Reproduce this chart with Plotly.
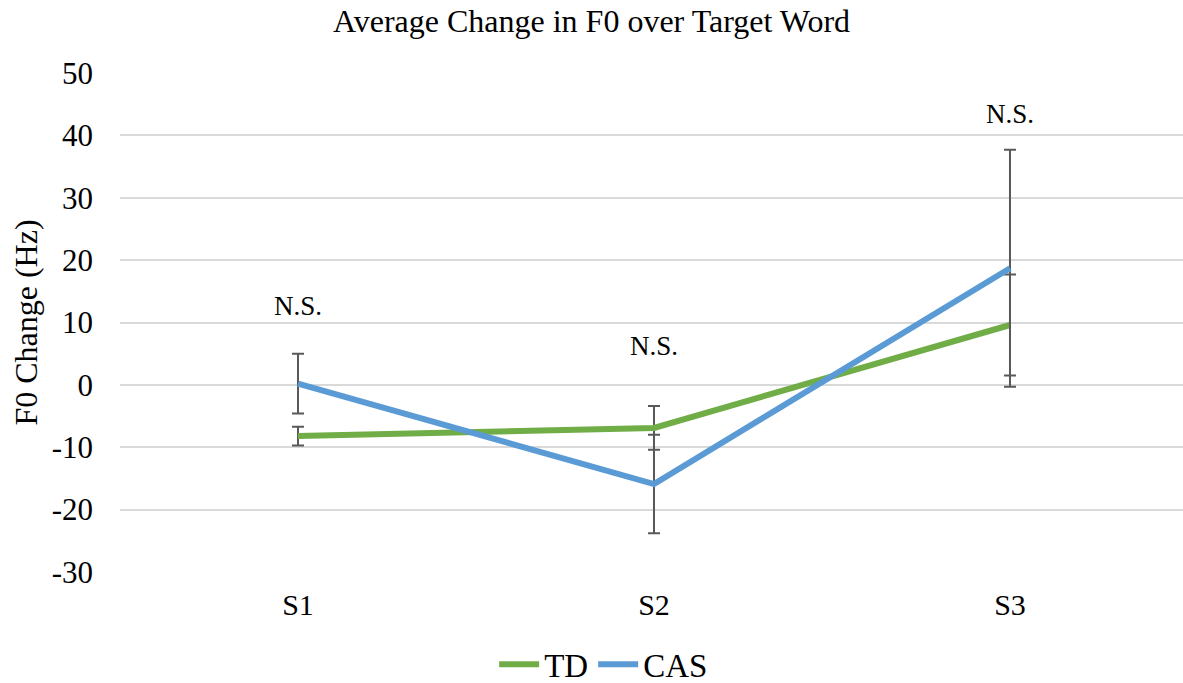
import plotly.graph_objects as go

categories = ["S1", "S2", "S3"]
td_values = [-8.2, -6.9, 9.6]
td_errors = [1.5, 3.5, 8.1]
cas_values = [0.2, -15.9, 18.7]
cas_errors = [4.8, 7.9, 19.0]
ns_labels = ["N.S.", "N.S.", "N.S."]
ns_y = [12.7, 6.3, 43.4]
y_tickvals = [-30, -20, -10, 0, 10, 20, 30, 40, 50]
y_ticktext = ["-30", "-20", "-10", "0", "10", "20", "30", "40", "50"]

FONT = "Liberation Serif"
ERR = "#595959"

fig = go.Figure()
fig.add_trace(go.Scatter(
    x=categories, y=td_values, mode="lines", name="TD",
    line=dict(color="#70AD47", width=6),
    error_y=dict(type="data", array=td_errors, color=ERR, thickness=2, width=6),
))
fig.add_trace(go.Scatter(
    x=categories, y=cas_values, mode="lines", name="CAS",
    line=dict(color="#5B9BD5", width=6),
    error_y=dict(type="data", array=cas_errors, color=ERR, thickness=2, width=6),
))

for c, t, yy in zip(categories, ns_labels, ns_y):
    fig.add_annotation(x=c, y=yy, text=t, showarrow=False,
                       font=dict(family=FONT, size=27, color="black"))

fig.update_layout(
    width=1183, height=683,
    paper_bgcolor="white", plot_bgcolor="white",
    margin=dict(l=120, r=0, t=73, b=111, autoexpand=False),
    title=dict(text="Average Change in F0 over Target Word", x=0.5, xanchor="center",
               y=0.97, yanchor="middle",
               font=dict(family=FONT, size=32, color="black")),
    font=dict(family=FONT, color="black"),
    xaxis=dict(range=[-0.5, 2.486], showgrid=False, showline=False, ticks="",
               tickfont=dict(family=FONT, size=30, color="black"), zeroline=False,
               ticklabelstandoff=12),
    yaxis=dict(range=[-30, 50], tickvals=y_tickvals, ticktext=y_ticktext,
               showgrid=True, gridcolor="#D9D9D9", gridwidth=2,
               zeroline=False, showline=False, ticks="",
               tickfont=dict(family=FONT, size=31, color="black"),
               ticklabelstandoff=26,
               title=dict(text="F0 Change (Hz)", font=dict(family=FONT, size=32, color="black"),
                          standoff=4)),
    legend=dict(orientation="h", x=0.455, xanchor="center", y=-0.185, yanchor="middle",
                font=dict(family=FONT, size=33, color="black"), itemwidth=40),
    showlegend=True,
)

fig.write_html("out.html", post_script="document.body.style.margin='0';",
               config={"displayModeBar": False})
